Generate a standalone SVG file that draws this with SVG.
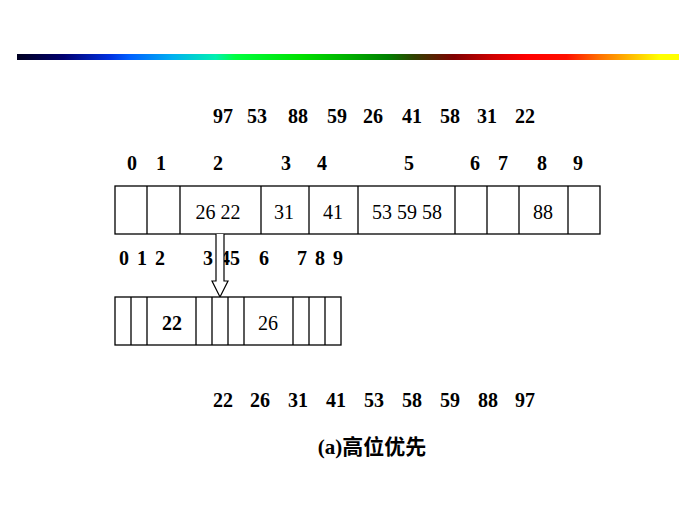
<svg xmlns="http://www.w3.org/2000/svg" width="679" height="509" viewBox="0 0 679 509">
<defs>
<linearGradient id="rainbow" x1="0" y1="0" x2="1" y2="0">
<stop offset="0" stop-color="#000020"/>
<stop offset="0.07" stop-color="#000070"/>
<stop offset="0.14" stop-color="#0030e0"/>
<stop offset="0.17" stop-color="#0060ff"/>
<stop offset="0.235" stop-color="#00b0f0"/>
<stop offset="0.30" stop-color="#00f0b0"/>
<stop offset="0.33" stop-color="#00ff40"/>
<stop offset="0.43" stop-color="#00e000"/>
<stop offset="0.50" stop-color="#00b000"/>
<stop offset="0.56" stop-color="#008000"/>
<stop offset="0.60" stop-color="#304000"/>
<stop offset="0.66" stop-color="#800000"/>
<stop offset="0.72" stop-color="#d00000"/>
<stop offset="0.77" stop-color="#ff0000"/>
<stop offset="0.83" stop-color="#ff1000"/>
<stop offset="0.88" stop-color="#ff7000"/>
<stop offset="0.93" stop-color="#ffc000"/>
<stop offset="0.97" stop-color="#ffff00"/>
<stop offset="1" stop-color="#ffff00"/>
</linearGradient>
</defs>
<style>
text { font-family: "Liberation Serif", "Noto Sans CJK SC", serif; fill: #000; text-anchor: middle; dominant-baseline: central; }
.lbl { font-size: 20px; font-weight: bold; }
.val { font-size: 20px; }
.cap { font-size: 21px; font-weight: bold; }
.cell { fill: #fff; stroke: #000; stroke-width: 1.3; }
.div { stroke: #000; stroke-width: 1.3; }
.arrow { fill: #fff; stroke: #000; stroke-width: 1.2; }
</style>
<rect x="0" y="0" width="679" height="509" fill="#fff"/>
<rect x="17" y="54" width="662" height="6" fill="url(#rainbow)"/>

<g id="input-sequence" class="lbl">
<text x="223" y="116">97</text>
<text x="257" y="116">53</text>
<text x="298" y="116">88</text>
<text x="337" y="116">59</text>
<text x="373" y="116">26</text>
<text x="412" y="116">41</text>
<text x="450" y="116">58</text>
<text x="487" y="116">31</text>
<text x="525" y="116">22</text>
</g>

<g id="top-indices" class="lbl">
<text x="132" y="163">0</text>
<text x="161" y="163">1</text>
<text x="218" y="163">2</text>
<text x="286" y="163">3</text>
<text x="322" y="163">4</text>
<text x="409" y="163">5</text>
<text x="475" y="163">6</text>
<text x="503" y="163">7</text>
<text x="542" y="163">8</text>
<text x="578" y="163">9</text>
</g>

<g id="top-buckets">
<rect class="cell" x="115" y="186" width="485" height="48"/>
<line class="div" x1="147" y1="186" x2="147" y2="234"/>
<line class="div" x1="180" y1="186" x2="180" y2="234"/>
<line class="div" x1="261" y1="186" x2="261" y2="234"/>
<line class="div" x1="309" y1="186" x2="309" y2="234"/>
<line class="div" x1="358" y1="186" x2="358" y2="234"/>
<line class="div" x1="455" y1="186" x2="455" y2="234"/>
<line class="div" x1="487" y1="186" x2="487" y2="234"/>
<line class="div" x1="519" y1="186" x2="519" y2="234"/>
<line class="div" x1="568" y1="186" x2="568" y2="234"/>
<g class="val">
<text x="218" y="212">26 22</text>
<text x="284" y="212">31</text>
<text x="333" y="212">41</text>
<text x="407" y="212">53 59 58</text>
<text x="543" y="212">88</text>
</g>
</g>

<g id="sub-indices" class="lbl">
<text x="124" y="258">0</text>
<text x="142" y="258">1</text>
<text x="160" y="258">2</text>
<text x="208" y="258">3</text>
<text x="225" y="258">4</text>
<text x="235" y="258">5</text>
<text x="264" y="258">6</text>
<text x="302" y="258">7</text>
<text x="320" y="258">8</text>
<text x="338" y="258">9</text>
</g>

<g id="connectors">
<path class="arrow" d="M216,234 L216,281 L212,281 L220,297 L228,281 L224,281 L224,234"/>
</g>

<g id="sub-buckets">
<rect class="cell" x="115" y="297" width="226" height="48"/>
<line class="div" x1="131" y1="297" x2="131" y2="345"/>
<line class="div" x1="147" y1="297" x2="147" y2="345"/>
<line class="div" x1="196" y1="297" x2="196" y2="345"/>
<line class="div" x1="212" y1="297" x2="212" y2="345"/>
<line class="div" x1="228" y1="297" x2="228" y2="345"/>
<line class="div" x1="244" y1="297" x2="244" y2="345"/>
<line class="div" x1="293" y1="297" x2="293" y2="345"/>
<line class="div" x1="309" y1="297" x2="309" y2="345"/>
<line class="div" x1="325" y1="297" x2="325" y2="345"/>
<text class="lbl" x="172" y="323">22</text>
<text class="val" x="268" y="323">26</text>
</g>

<g id="sorted-sequence" class="lbl">
<text x="223" y="400">22</text>
<text x="260" y="400">26</text>
<text x="298" y="400">31</text>
<text x="336" y="400">41</text>
<text x="374" y="400">53</text>
<text x="412" y="400">58</text>
<text x="450" y="400">59</text>
<text x="488" y="400">88</text>
<text x="525" y="400">97</text>
</g>

<g id="caption">
<text class="cap" x="372" y="447">(a)高位优先</text>
</g>
</svg>
